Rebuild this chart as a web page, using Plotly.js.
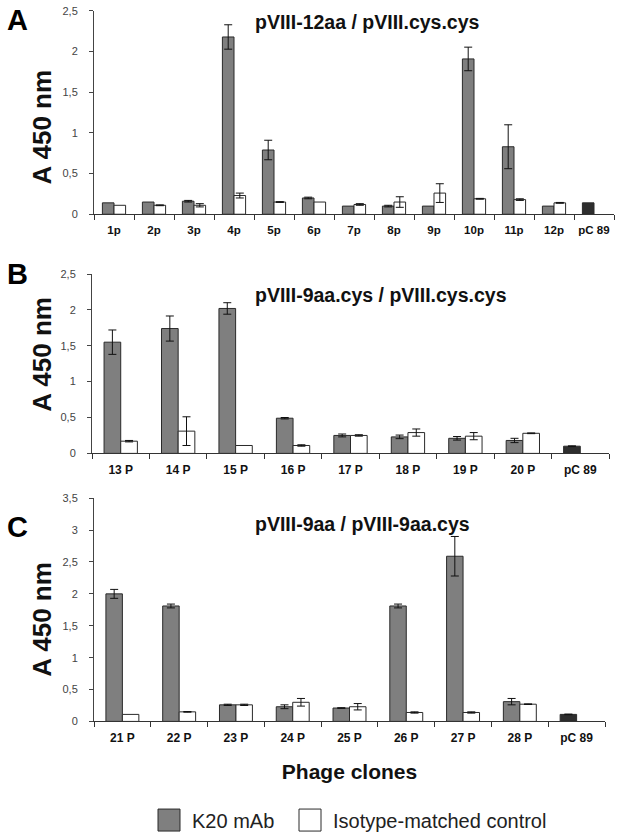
<!DOCTYPE html>
<html>
<head>
<meta charset="utf-8">
<script src="https://cdn.plot.ly/plotly-3.0.1.min.js"></script>
<style>html,body{margin:0;padding:0;background:#fff;}#chart{width:621px;height:840px;}</style>
</head>
<body>
<div id="chart"></div>
<script>
// ---------- data ----------
const catsA = ['1p','2p','3p','4p','5p','6p','7p','8p','9p','10p','11p','12p','pC 89'];
const k20A   = [0.14, 0.15, 0.16, 2.18, 0.79, 0.20, 0.10, 0.10, 0.10, 1.91, 0.83, 0.10, 0.14];
const k20ErrA = [NaN, NaN, 0.01, 0.15, 0.12, 0.01, NaN, 0.01, NaN, 0.145, 0.27, NaN, NaN];
const ctrlA  = [0.11, 0.11, 0.11, 0.23, 0.15, 0.15, 0.12, 0.15, 0.26, 0.19, 0.18, 0.14, null];
const ctrlErrA = [NaN, 0.005, 0.02, 0.03, 0.005, NaN, 0.01, 0.065, 0.115, 0.005, 0.01, 0.005, NaN];

const catsB = ['13 P','14 P','15 P','16 P','17 P','18 P','19 P','20 P','pC 89'];
const k20B   = [1.55, 1.74, 2.02, 0.49, 0.25, 0.23, 0.21, 0.18, 0.10];
const k20ErrB = [0.17, 0.175, 0.08, 0.01, 0.02, 0.025, 0.025, 0.03, 0.005];
const ctrlB  = [0.17, 0.31, 0.11, 0.11, 0.25, 0.29, 0.24, 0.28, null];
const ctrlErrB = [0.01, 0.2, NaN, 0.01, 0.01, 0.05, 0.05, 0.005, NaN];

const catsC = ['21 P','22 P','23 P','24 P','25 P','26 P','27 P','28 P','pC 89'];
const k20C   = [2.00, 1.81, 0.26, 0.23, 0.21, 1.81, 2.59, 0.31, 0.11];
const k20ErrC = [0.07, 0.03, 0.01, 0.03, 0.005, 0.03, 0.31, 0.05, 0.005];
const ctrlC  = [0.11, 0.15, 0.26, 0.30, 0.23, 0.14, 0.14, 0.27, null];
const ctrlErrC = [NaN, 0.005, 0.01, 0.06, 0.05, 0.01, 0.01, 0.005, NaN];

const panelTitles = ['pVIII-12aa / pVIII.cys.cys', 'pVIII-9aa.cys / pVIII.cys.cys', 'pVIII-9aa / pVIII-9aa.cys'];
const panelLetters = ['A', 'B', 'C'];
const yTitle = 'A 450 nm';
const xTitle = 'Phage clones';
const seriesNames = ['K20 mAb', 'Isotype-matched control'];
const controlCat = 'pC 89';

// ---------- style ----------
const W = 621, H = 840;
const GRAY = '#7f7f7f', DARK = '#2e2e2e', EDGE = '#2a2a2a';
const FONT = 'Liberation Sans, Arial, sans-serif';
const px = v => v / W, py = v => 1 - v / H;

function traces(cats, k20, k20Err, ctrl, ctrlErr, ax, showLeg) {
  return [
    {type:'bar', name:seriesNames[0], x:cats, y:k20, xaxis:'x'+ax, yaxis:'y'+ax,
     showlegend:showLeg, legend:'legend',
     marker:{color:cats.map(c => c === controlCat ? DARK : GRAY), line:{color:EDGE, width:1}},
     error_y:{type:'data', array:k20Err, visible:true, color:'#111', thickness:1, width:4}},
    {type:'bar', name:seriesNames[1], x:cats, y:ctrl, xaxis:'x'+ax, yaxis:'y'+ax,
     showlegend:showLeg, legend:'legend2',
     marker:{color:'#ffffff', line:{color:EDGE, width:1}},
     error_y:{type:'data', array:ctrlErr, visible:true, color:'#111', thickness:1, width:4}}
  ];
}

const data = [
  ...traces(catsA, k20A, k20ErrA, ctrlA, ctrlErrA, '', true),
  ...traces(catsB, k20B, k20ErrB, ctrlB, ctrlErrB, '2', false),
  ...traces(catsC, k20C, k20ErrC, ctrlC, ctrlErrC, '3', false)
];

function xax(d0, d1, anchor, fsize, extra) {
  return Object.assign({domain:[px(d0), px(d1)], anchor:anchor, type:'category',
    showline:true, linecolor:'#333', linewidth:1, ticks:'outside', tickson:'boundaries',
    ticklen:5, tickcolor:'#333', showgrid:false, zeroline:false, fixedrange:true, tickangle:0,
    tickfont:{family:FONT, size:fsize, color:'#111', weight:'bold'}, ticklabelstandoff:5}, extra || {});
}
function yax(top, bottom, maxv, anchor) {
  return {domain:[py(bottom), py(top)], anchor:anchor, range:[0, maxv], dtick:0.5, tick0:0,
    showline:true, linecolor:'#444', linewidth:1, ticks:'outside', ticklen:4, tickcolor:'#444',
    showgrid:false, zeroline:false, fixedrange:true,
    tickfont:{family:FONT, size:11, color:'#444'}, ticklabelstandoff:9};
}

const annotations = [];
const titleY = [22, 296, 526];
const letterY = [20, 275, 529];
const yTitleY = [128, 356, 622];
for (let i = 0; i < 3; i++) {
  annotations.push({xref:'paper', yref:'paper', x:px(253), y:py(titleY[i]), xanchor:'left', yanchor:'middle',
    text:panelTitles[i], showarrow:false, font:{family:FONT, size:19.5, color:'#111', weight:'bold'}});
  annotations.push({xref:'paper', yref:'paper', x:px(17), y:py(letterY[i]), xanchor:'center', yanchor:'middle',
    text:panelLetters[i], showarrow:false, font:{family:FONT, size:29, color:'#000', weight:'bold'}});
  annotations.push({xref:'paper', yref:'paper', x:px(42), y:py(yTitleY[i]), xanchor:'center', yanchor:'middle',
    text:yTitle, textangle:-90, showarrow:false, font:{family:FONT, size:26, color:'#111', weight:'bold'}});
}

const legBase = {orientation:'h', xanchor:'left', yanchor:'middle', y:py(823), itemwidth:36,
  font:{family:FONT, size:20, color:'#222'}, bgcolor:'rgba(0,0,0,0)',
  itemclick:false, itemdoubleclick:false};

const layout = {
  width:W, height:H, margin:{l:0, r:0, t:0, b:0},
  paper_bgcolor:'#fff', plot_bgcolor:'#fff',
  separators:', ',
  barmode:'group', bargap:0.42, bargroupgap:0,
  font:{family:FONT, color:'#111'},
  xaxis: xax(94, 614, 'y', 11.5),
  yaxis: yax(11, 215, 2.5, 'x'),
  xaxis2: xax(92, 609, 'y2', 12),
  yaxis2: yax(275, 455, 2.5, 'x2'),
  xaxis3: xax(94, 605, 'y3', 12, {title:{text:xTitle, font:{family:FONT, size:21, color:'#111', weight:'bold'}, standoff:20}}),
  yaxis3: yax(500, 724, 3.5, 'x3'),
  showlegend:true,
  legend: Object.assign({x:px(146)}, legBase),
  legend2: Object.assign({x:px(287)}, legBase),
  annotations:annotations
};

Plotly.newPlot('chart', data, layout, {displayModeBar:false, staticPlot:true}).then(() => {
  document.querySelectorAll('.legendpoints path').forEach(p => {
    p.setAttribute('d', 'M11,11H-11V-11H11Z');
  });
});
</script>
</body>
</html>
